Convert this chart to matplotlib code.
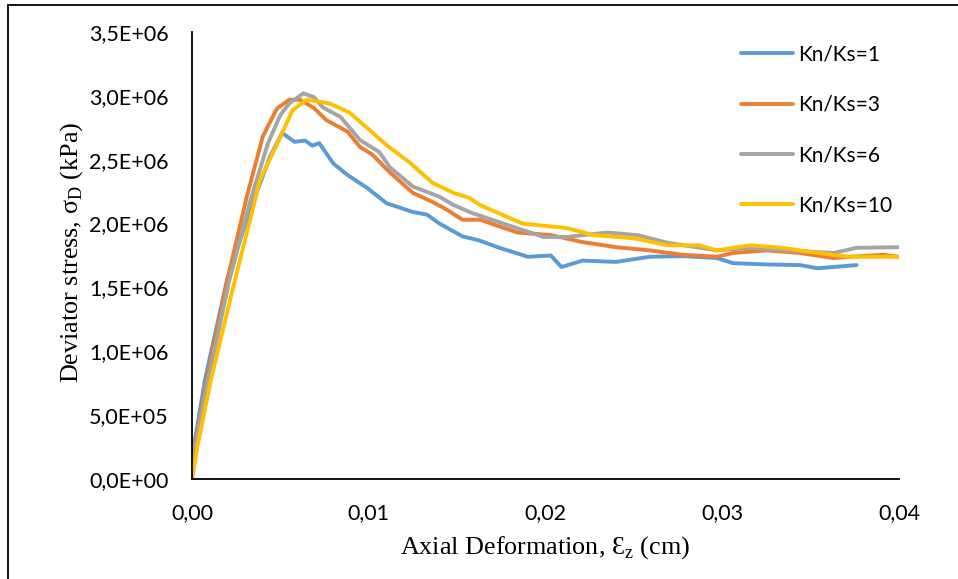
import matplotlib
matplotlib.use("Agg")
import matplotlib.pyplot as plt
from matplotlib.ticker import FuncFormatter, MultipleLocator
from matplotlib.patches import Rectangle

# Kn/Ks = 1
x_kn1 = [0, 0.0001, 0.00074, 0.002, 0.0032, 0.0044, 0.0051, 0.0058, 0.0064, 0.0068,
         0.0072, 0.0080, 0.0088, 0.0099, 0.0110, 0.0125, 0.0133, 0.0140, 0.0153, 0.0162,
         0.0174, 0.0190, 0.0203, 0.0209, 0.0221, 0.0240, 0.0259, 0.0278, 0.0297, 0.0306,
         0.0325, 0.0344, 0.0354, 0.0376]
y_kn1 = [0, 0.25e6, 0.78e6, 1.57e6, 2.07e6, 2.52e6, 2.71e6, 2.64e6, 2.65e6, 2.61e6,
         2.63e6, 2.47e6, 2.38e6, 2.28e6, 2.16e6, 2.09e6, 2.07e6, 2.00e6, 1.90e6, 1.87e6,
         1.81e6, 1.74e6, 1.75e6, 1.66e6, 1.71e6, 1.70e6, 1.74e6, 1.745e6, 1.73e6, 1.69e6,
         1.68e6, 1.675e6, 1.65e6, 1.675e6]

# Kn/Ks = 3
x_kn3 = [0, 0.0001, 0.00085, 0.002, 0.0031, 0.0040, 0.0048, 0.0055, 0.0061, 0.0069,
         0.0076, 0.0088, 0.0095, 0.0102, 0.0112, 0.0125, 0.0136, 0.0144, 0.0153, 0.0163,
         0.0184, 0.0203, 0.0221, 0.0240, 0.0259, 0.0278, 0.0297, 0.0306, 0.0325, 0.0344,
         0.0363, 0.0372, 0.0391, 0.0400]
y_kn3 = [0, 0.22e6, 0.78e6, 1.56e6, 2.21e6, 2.68e6, 2.90e6, 2.97e6, 2.97e6, 2.905e6,
         2.81e6, 2.72e6, 2.60e6, 2.54e6, 2.40e6, 2.24e6, 2.17e6, 2.11e6, 2.03e6, 2.03e6,
         1.93e6, 1.91e6, 1.855e6, 1.815e6, 1.79e6, 1.755e6, 1.74e6, 1.77e6, 1.79e6, 1.77e6,
         1.73e6, 1.74e6, 1.755e6, 1.74e6]

# Kn/Ks = 6
x_kn6 = [0, 0.0001, 0.0009, 0.0021, 0.0033, 0.0043, 0.0050, 0.0055, 0.0063, 0.0069,
         0.0074, 0.0084, 0.0095, 0.0106, 0.0112, 0.0125, 0.0140, 0.0148, 0.0159, 0.0174,
         0.0199, 0.0212, 0.0235, 0.0252, 0.0269, 0.0297, 0.0316, 0.0334, 0.0363, 0.0376,
         0.0400]
y_kn6 = [0, 0.2e6, 0.76e6, 1.55e6, 2.18e6, 2.63e6, 2.85e6, 2.94e6, 3.02e6, 2.99e6,
         2.91e6, 2.835e6, 2.655e6, 2.56e6, 2.44e6, 2.29e6, 2.21e6, 2.145e6, 2.08e6, 2.01e6,
         1.895e6, 1.895e6, 1.93e6, 1.91e6, 1.85e6, 1.79e6, 1.81e6, 1.79e6, 1.77e6, 1.81e6,
         1.815e6]

# Kn/Ks = 10
x_kn10 = [0, 0.0003, 0.00107, 0.00243, 0.00385, 0.0050, 0.0057, 0.0065, 0.0078, 0.0089,
          0.0099, 0.0110, 0.0123, 0.0136, 0.0148, 0.0157, 0.0163, 0.0187, 0.0212, 0.0227,
          0.0250, 0.0269, 0.0287, 0.0297, 0.0316, 0.0334, 0.0354, 0.0372, 0.0400]
y_kn10 = [0, 0.25e6, 0.775e6, 1.558e6, 2.34e6, 2.68e6, 2.89e6, 2.97e6, 2.94e6, 2.87e6,
          2.75e6, 2.615e6, 2.48e6, 2.32e6, 2.24e6, 2.20e6, 2.145e6, 2.0e6, 1.965e6, 1.91e6,
          1.885e6, 1.83e6, 1.83e6, 1.79e6, 1.83e6, 1.81e6, 1.77e6, 1.74e6, 1.74e6]

labels = ["Kn/Ks=1", "Kn/Ks=3", "Kn/Ks=6", "Kn/Ks=10"]
colors = ["#5B9BD5", "#ED7D31", "#A5A5A5", "#FFC000"]

fig = plt.figure(figsize=(9.58, 5.79), dpi=100)
ax = fig.add_axes([192 / 958, 1 - 479 / 579, 707 / 958, 447 / 579])

series = [(x_kn1, y_kn1), (x_kn3, y_kn3), (x_kn6, y_kn6), (x_kn10, y_kn10)]
for (xs, ys), lab, c in zip(series, labels, colors):
    ax.plot(xs, ys, color=c, lw=2.8, label=lab, solid_capstyle="round")

ax.set_xlim(0, 0.04)
ax.set_ylim(0, 3.5e6)
ax.xaxis.set_major_locator(MultipleLocator(0.01))
ax.yaxis.set_major_locator(MultipleLocator(5e5))
ax.xaxis.set_major_formatter(FuncFormatter(lambda v, p: f"{v:.2f}".replace(".", ",")))
ax.yaxis.set_major_formatter(FuncFormatter(lambda v, p: f"{v:.1E}".replace(".", ",")))
ax.tick_params(length=0, labelsize=15.5)
ax.tick_params(axis="y", pad=17)
ax.tick_params(axis="x", pad=17)
for lbl in ax.get_xticklabels() + ax.get_yticklabels():
    lbl.set_family("Lato")

for s in ["top", "right"]:
    ax.spines[s].set_visible(False)
for s in ["left", "bottom"]:
    ax.spines[s].set_linewidth(1.3)
    ax.spines[s].set_color("black")

serif = ["Liberation Serif", "DejaVu Serif"]
fig.text(72 / 958, 1 - 252 / 579, r"Deviator stress, σ$_\mathregular{D}$ (kPa)",
         rotation=90, ha="center", va="center", fontsize=18.8, family=serif)
fig.text(545 / 958, 1 - 548 / 579, r"Axial Deformation, Ɛ$_\mathregular{z}$ (cm)",
         ha="center", va="center", fontsize=18.8, family=serif)

leg = ax.legend(loc="upper left", bbox_to_anchor=(530 / 707, 1 + 6 / 447), frameon=False,
                handlelength=2.5, handletextpad=0.25, labelspacing=1.45,
                prop={"family": "Lato", "size": 15})

# outer frame of the chart area
fig.patches.append(Rectangle((8 / 958, -0.1), 1.2, 1 - 5 / 579 + 0.1, transform=fig.transFigure,
                             fill=False, edgecolor="black", lw=1.3))

fig.savefig("out.png", dpi=100)
